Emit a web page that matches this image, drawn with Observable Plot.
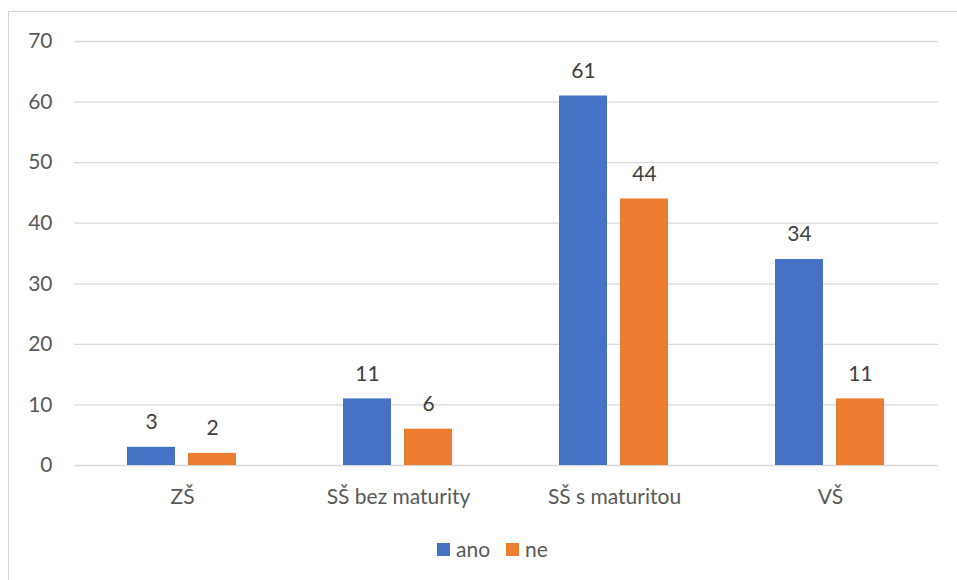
<!DOCTYPE html>
<html>
<head>
<meta charset="utf-8">
<script src="https://cdn.jsdelivr.net/npm/d3@7"></script>
<script src="https://cdn.jsdelivr.net/npm/@observablehq/plot@0.6"></script>
<style>
  body { margin: 0; background: #fff; font-family: Lato, "Open Sans", sans-serif; }
  #wrap { position: relative; width: 957px; height: 580px; overflow: hidden; }
  #frame { position: absolute; left: 8px; top: 11px; width: 1000px; height: 700px; border: 1.5px solid #d4d4d4; box-sizing: border-box; }
  #chart { position: absolute; left: 0; top: 0; }
  #legend { position: absolute; top: 537px; left: 437px; display: flex; align-items: center; font-size: 21px; line-height: 24px; color: #595959; }
  #legend .sw { width: 13px; height: 13px; display: inline-block; margin-right: 6px; }
  #legend .item { display: flex; align-items: center; margin-right: 16px; }
</style>
</head>
<body>
<div id="wrap">
  <div id="frame"></div>
  <div id="chart"></div>
  <div id="legend"></div>
</div>
<script>
const categories = ["ZŠ", "SŠ bez maturity", "SŠ s maturitou", "VŠ"];
const seriesNames = ["ano", "ne"];
const ano = [3, 11, 61, 34];
const ne = [2, 6, 44, 11];
const yTicks = [0, 10, 20, 30, 40, 50, 60, 70];
const colors = ["#4472C4", "#ED7D31"];

const data = [];
categories.forEach((c, i) => {
  data.push({cat: c, series: "ano", value: ano[i]});
  data.push({cat: c, series: "ne", value: ne[i]});
});

const chart = Plot.plot({
  width: 957,
  height: 520,
  marginLeft: 73,
  marginRight: 18,
  marginTop: 41,
  marginBottom: 55,
  style: {fontFamily: "Lato, 'Open Sans', sans-serif", fontSize: "21px", color: "#595959", background: "transparent"},
  fx: {domain: categories, padding: 0, label: null, tickSize: 0, tickPadding: 24, axis: "bottom"},
  x: {domain: seriesNames, axis: null, paddingInner: 0.21, paddingOuter: 0.851},
  y: {domain: [0, 70], ticks: yTicks, tickSize: 0, tickPadding: 22, label: null},
  color: {domain: seriesNames, range: colors},
  facet: {data: data, x: "cat"},
  marks: [
    Plot.ruleY(yTicks, {stroke: "#d9d9d9", strokeWidth: 1.3, facet: null}),
    Plot.barY(data, {x: "series", y: "value", fill: "series"}),
    Plot.text(data, {x: "series", y: "value", text: d => String(d.value), dy: -25, fill: "#404040", fontSize: 21})
  ]
});
document.getElementById("chart").appendChild(chart);

const legend = document.getElementById("legend");
seriesNames.forEach((s, i) => {
  const item = document.createElement("div");
  item.className = "item";
  const sw = document.createElement("span");
  sw.className = "sw";
  sw.style.background = colors[i];
  const t = document.createElement("span");
  t.textContent = s;
  item.appendChild(sw);
  item.appendChild(t);
  legend.appendChild(item);
});
</script>
</body>
</html>
